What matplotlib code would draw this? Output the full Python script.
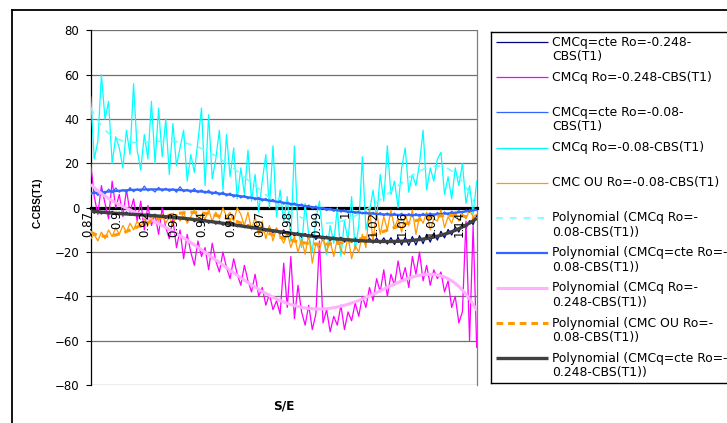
import numpy as np
import matplotlib
matplotlib.use("Agg")
import matplotlib.pyplot as plt
from matplotlib.lines import Line2D
import matplotlib.transforms as mtransforms

# ---- data -------------------------------------------------------------
tick_labels = ["0.87", "0.9", "0.92", "0.93", "0.94", "0.95", "0.97",
               "0.98", "0.99", "1", "1.02", "1.06", "1.09", "1.14"]
label_step = 8

cmcq_cte_0248 = [
    -1.0, -2.5, -1.2, -2.8, -1.5, -2.9, -1.6, -3.1, -2.0, -3.3, -1.9,
    -3.4, -2.2, -3.8, -2.5, -3.6, -2.7, -4.2, -2.9, -4.5, -3.3, -4.8,
    -3.5, -5.0, -3.9, -5.6, -4.2, -6.0, -4.6, -6.3, -4.9, -6.6, -5.2,
    -7.0, -5.6, -7.4, -6.0, -7.9, -6.3, -8.2, -6.8, -8.6, -7.2, -9.0,
    -7.6, -9.5, -8.0, -10.1, -8.5, -10.6, -9.0, -11.2, -9.5, -11.8, -10.0,
    -12.3, -10.6, -12.8, -11.0, -13.4, -11.6, -13.9, -12.0, -14.3, -12.5, -14.8,
    -12.8, -15.0, -13.1, -15.3, -13.3, -15.5, -13.4, -15.6, -13.6, -15.7, -13.7,
    -15.9, -13.8, -16.0, -13.7, -16.1, -13.6, -16.4, -13.5, -16.6, -13.4, -16.8,
    -13.3, -17.0, -13.0, -16.8, -12.6, -16.2, -12.0, -15.5, -11.4, -14.6, -10.6,
    -13.6, -9.8, -12.3, -8.6, -11.0, -7.2, -9.4, -5.8, -7.6, -3.5]

cmcq_0248 = [
    20, 5, -3, 10, 2, -5, 12, 0, 6, -4, 8,
    -2, 4, -6, 3, -10, 1, -8, -3, -12, 0, -9,
    -14, -5, -18, -10, -23, -12, -20, -26, -15, -22, -18,
    -28, -16, -24, -29, -20, -27, -32, -23, -30, -35, -26,
    -33, -38, -30, -40, -36, -44, -39, -46, -42, -48, -25,
    -45, -22, -50, -35, -47, -53, -44, -55, -48, -15, -52,
    -46, -56, -49, -53, -44, -55, -47, -51, -43, -49, -40,
    -45, -36, -42, -32, -38, -28, -40, -30, -35, -24, -33,
    -27, -36, -22, -30, -20, -33, -26, -35, -28, -32, -29,
    -38, -33, -45, -40, -52, -47, -6, -60, -8, -63]

cmcq_cte_008 = [
    6.0, 7.5, 5.5, 8.0, 6.2, 8.4, 6.8, 8.9, 7.0, 8.2, 6.9,
    9.1, 7.2, 8.5, 7.3, 9.8, 7.6, 8.4, 7.1, 9.2, 7.5, 8.8,
    7.4, 8.6, 7.0, 9.5, 7.2, 8.3, 6.9, 8.7, 6.8, 8.0, 6.5,
    7.9, 6.0, 7.4, 5.7, 7.2, 5.3, 6.6, 4.8, 6.1, 4.4, 5.6,
    4.0, 5.1, 3.5, 4.7, 3.0, 4.2, 2.6, 3.8, 2.1, 3.3, 1.6,
    2.8, 1.1, 2.2, 0.6, 1.7, 0.1, 1.2, -0.4, 0.8, -0.9, 0.2,
    -1.3, -0.2, -1.6, -0.6, -2.0, -0.9, -2.3, -1.2, -2.6, -1.5, -2.8,
    -1.8, -3.1, -2.0, -3.4, -2.2, -3.6, -2.3, -3.8, -2.4, -3.9, -2.5,
    -4.0, -2.6, -4.1, -2.6, -4.2, -2.5, -4.1, -2.3, -3.9, -2.1, -3.6,
    -1.9, -3.3, -1.6, -2.9, -1.3, -2.5, -1.0, -2.1, -0.6, -1.2]

cmcq_008 = [
    50, 22, 30, 60, 40, 48, 20, 32, 27, 18, 35,
    24, 56, 26, 17, 33, 22, 48, 20, 45, 23, 40,
    15, 38, 19, 27, 35, 12, 24, 16, 30, 45, 10,
    42, 13, 22, 35, 8, 33, 14, 27, 4, 18, 6,
    26, 3, 15, -2, 12, 24, 0, 28, -4, 8, -6,
    5, -15, 28, -10, -18, 2, -12, -20, -5, 3, -14,
    -21, -8, -16, 0, -22, -6, -15, 5, -19, -8, 23,
    -10, -2, 8, -5, 15, 3, 28, 6, 12, 0, 18,
    27, 7, 15, 10, 20, 35, 8, 18, 12, 22, 25,
    6, 14, 4, 18, 10, 20, 2, 10, -3, 12]

cmc_ou_008 = [
    -14, -12, -15, -11, -14, -10, -13, -9, -12, -8, -11,
    -7, -10, -6, -9, -5, -8, -4, -7, -6, -3, -7,
    -4, -8, -3, -6, -2, -7, -4, -1, -6, -3, -5,
    -1, -6, -2, -5, 0, -4, -2, -6, 0, -3, -8,
    -2, -10, -4, -12, -6, -14, -8, -15, -9, -13, -16,
    -11, -18, -13, -20, -14, -21, -12, -25, -16, -19, -13,
    -20, -15, -22, -14, -19, -21, -13, -23, -17, -20, -12,
    -18, 0, -15, -2, -12, -4, -10, -1, -9, -5, -11,
    -3, -8, -1, -12, -4, -7, -2, -10, -5, -6, -1,
    -9, -4, -7, -2, -6, -3, -5, -1, -4, -3]

# ---- figure -------------------------------------------------------------
W, H = 727, 423
fig = plt.figure(figsize=(W / 100, H / 100), dpi=100)
fig.patch.set_facecolor("white")

def fx(px):
    return px / W

def fy(py):
    return 1 - py / H

ax = fig.add_axes([fx(90.7), fy(385), fx(476.7) - fx(90.7), fy(30.5) - fy(385)])

x = np.arange(len(cmcq_008))

styles = {
    "navy": dict(color="#000080", lw=0.9),
    "magenta": dict(color="#FF00FF", lw=0.9),
    "blue": dict(color="#3366FF", lw=0.9),
    "cyan": dict(color="#00FFFF", lw=0.9),
    "orange": dict(color="#FF9900", lw=0.9),
}

ax.plot(x, cmcq_cte_0248, zorder=3, **styles["navy"])
ax.plot(x, cmcq_0248, zorder=3.1, **styles["magenta"])
ax.plot(x, cmcq_cte_008, zorder=3.2, **styles["blue"])
ax.plot(x, cmcq_008, zorder=3.3, **styles["cyan"])
ax.plot(x, cmc_ou_008, zorder=3.4, **styles["orange"])

# polynomial trend lines (order 6)
def trend(y):
    return np.polynomial.Polynomial.fit(x, np.asarray(y, float), 6)(x)

trend_styles = [
    (cmcq_008, dict(color="#66FFFF", lw=1.1, ls=(0, (4.5, 4.5)))),
    (cmcq_cte_008, dict(color="#3366FF", lw=1.6)),
    (cmcq_0248, dict(color="#FFB0FF", lw=2.2)),
    (cmc_ou_008, dict(color="#FF9900", lw=2.2, ls=(0, (2.2, 1.6)))),
    (cmcq_cte_0248, dict(color="#404040", lw=2.4)),
]
for k, (y, st) in enumerate(trend_styles):
    ax.plot(x, trend(y), zorder=4 + 0.1 * k, solid_capstyle="butt", **st)

ax.set_xlim(0, len(x) - 1)
ax.set_ylim(-80, 80)
ax.set_yticks(np.arange(-80, 81, 20))
ax.yaxis.grid(True, color="#707070", lw=0.9)
ax.set_axisbelow(True)
ax.set_xticks([])

ax.spines["top"].set_visible(False)
ax.spines["right"].set_color("#808080")
ax.spines["right"].set_linewidth(0.9)
ax.spines["left"].set_color("black")
ax.spines["left"].set_linewidth(0.9)
ax.spines["bottom"].set_position(("data", 0))
ax.spines["bottom"].set_color("black")
ax.spines["bottom"].set_linewidth(2.3)
ax.spines["bottom"].set_zorder(2.5)

ax.tick_params(axis="y", direction="out", length=3.3, width=0.8, pad=5,
               labelsize=8.5, colors="black")
for t in ax.get_yticklabels():
    t.set_fontfamily("DejaVu Sans")

# category labels hanging below the zero line
lab_tr = mtransforms.offset_copy(ax.transData, fig=fig, x=-3, y=-3, units="dots")
for k, lab in enumerate(tick_labels):
    ax.text(k * label_step, 0, lab, rotation=90, ha="center", va="top",
            fontsize=8.5, family="DejaVu Sans", transform=lab_tr,
            clip_on=False, zorder=6)

fig.text(fx(38), fy(203), "C-CBS(T1)", rotation=90, ha="center", va="center",
         fontsize=7.3, fontweight="bold", family="Liberation Sans")
fig.text(fx(284), fy(406), "S/E", ha="center", va="center",
         fontsize=8.7, fontweight="bold", family="DejaVu Sans")

# chart frame
fig.add_artist(Line2D([fx(12), fx(12)], [fy(10), fy(H + 5)], color="black", lw=1.3,
                      transform=fig.transFigure))
fig.add_artist(Line2D([fx(12), fx(W + 5)], [fy(10), fy(10)], color="black", lw=1.3,
                      transform=fig.transFigure))

# legend box
fig.add_artist(Line2D([fx(491), fx(491)], [fy(32), fy(383)], color="black", lw=1.0,
                      transform=fig.transFigure))
fig.add_artist(Line2D([fx(491), fx(W + 5)], [fy(32), fy(32)], color="black", lw=1.0,
                      transform=fig.transFigure))
fig.add_artist(Line2D([fx(491), fx(W + 5)], [fy(383), fy(383)], color="black", lw=1.0,
                      transform=fig.transFigure))

legend_entries = [
    (["CMCq=cte Ro=-0.248-", "CBS(T1)"], styles["navy"]),
    (["CMCq Ro=-0.248-CBS(T1)"], styles["magenta"]),
    (["CMCq=cte Ro=-0.08-", "CBS(T1)"], styles["blue"]),
    (["CMCq Ro=-0.08-CBS(T1)"], styles["cyan"]),
    (["CMC OU Ro=-0.08-CBS(T1)"], styles["orange"]),
    (["Polynomial (CMCq Ro=-", "0.08-CBS(T1))"], trend_styles[0][1]),
    (["Polynomial (CMCq=cte Ro=-", "0.08-CBS(T1))"], trend_styles[1][1]),
    (["Polynomial (CMCq Ro=-", "0.248-CBS(T1))"], trend_styles[2][1]),
    (["Polynomial (CMC OU Ro=-", "0.08-CBS(T1))"], trend_styles[3][1]),
    (["Polynomial (CMCq=cte Ro=-", "0.248-CBS(T1))"], trend_styles[4][1]),
]
for k, (lines, st) in enumerate(legend_entries):
    yk = 42.3 + 35.1 * k
    fig.add_artist(Line2D([fx(496), fx(548)], [fy(yk), fy(yk)],
                          transform=fig.transFigure, solid_capstyle="butt", **st))
    for j, line in enumerate(lines):
        fig.text(fx(552), fy(yk + 14.3 * j), line, ha="left", va="center",
                 fontsize=8.9, family="DejaVu Sans")

fig.savefig("out.png", dpi=100, facecolor="white")
